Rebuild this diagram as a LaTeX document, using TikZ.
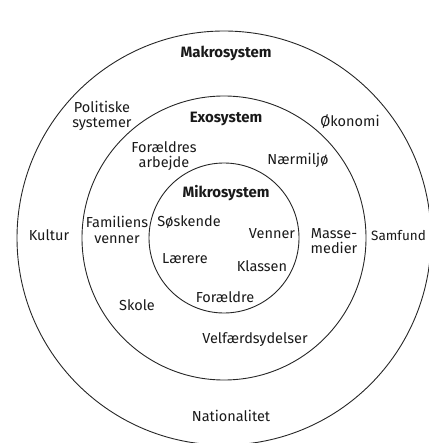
\documentclass[tikz,border=0pt]{standalone}
\usepackage{fontspec}
\setmainfont{Fira Sans}
\begin{document}
\begin{tikzpicture}[x=1pt,y=-1pt,
  ring/.style={draw=black!85, line width=0.9pt},
  lbl/.style={font=\fontsize{14.5}{15.5}\selectfont, align=center, inner sep=0pt, text=black!90},
  ttl/.style={lbl, font=\fontsize{15}{15.5}\selectfont\bfseries}]
\useasboundingbox (0,0) rectangle (428,443);
\coordinate (c) at (224,238);
\draw[ring] (c) circle[radius=207pt];
\draw[ring] (c) circle[radius=142pt];
\draw[ring] (c) circle[radius=75pt];
% titles
\node[ttl] (makro) at (226,53) {Makrosystem};
\node[ttl] (exo) at (226,119) {Exosystem};
\node[ttl] (mikro) at (226,193) {Mikrosystem};
% makro ring
\node[lbl] (pol) at (102,116) {Politiske\\systemer};
\node[lbl] (oko) at (350,121) {Økonomi};
\node[lbl] (kul) at (49,235) {Kultur};
\node[lbl, anchor=west, font=\fontsize{13.5}{15.5}\selectfont] (sam) at (371,236) {Samfund};
\node[lbl] (nat) at (231,416) {Nationalitet};
% exo ring
\node[lbl] (arb) at (164,156) {Forældres\\arbejde};
\node[lbl] (naer) at (298,160) {Nærmiljø};
\node[lbl] (fam) at (117,230) {Familiens\\venner};
\node[lbl] (mas) at (334,241) {Masse-\\medier};
\node[lbl] (sko) at (137,305) {Skole};
\node[lbl] (vel) at (255,340) {Velfærdsydelser};
% mikro ring
\node[lbl] (sos) at (189,222) {Søskende};
\node[lbl] (ven) at (272,234) {Venner};
\node[lbl] (lae) at (185,259) {Lærere};
\node[lbl] (kla) at (262,266) {Klassen};
\node[lbl] (for) at (225,297) {Forældre};
\end{tikzpicture}
\end{document}
